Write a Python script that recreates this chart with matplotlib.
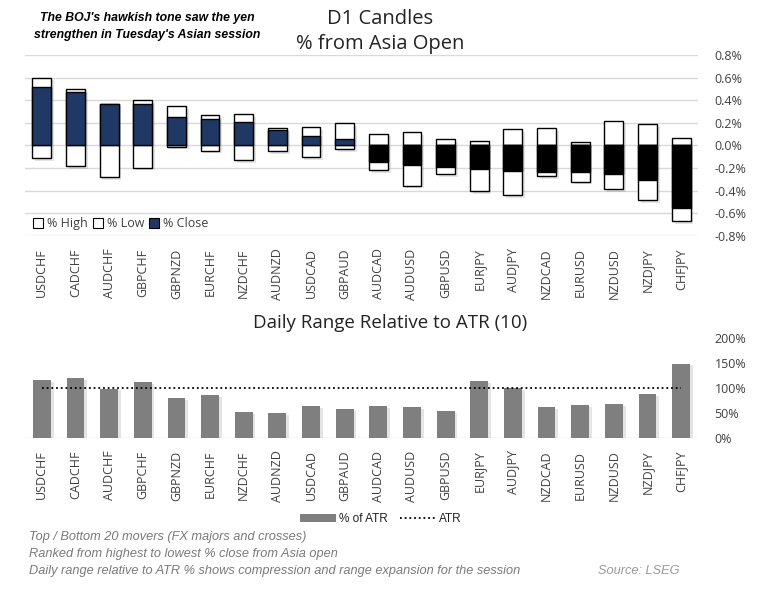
import matplotlib
matplotlib.use("Agg")
import matplotlib.pyplot as plt
import matplotlib.patheffects as pe
from matplotlib.patches import Patch
from matplotlib.lines import Line2D
from matplotlib.ticker import FuncFormatter, MultipleLocator
import numpy as np

pairs = ["USDCHF", "CADCHF", "AUDCHF", "GBPCHF", "GBPNZD", "EURCHF", "NZDCHF", "AUDNZD",
         "USDCAD", "GBPAUD", "AUDCAD", "AUDUSD", "GBPUSD", "EURJPY", "AUDJPY", "NZDCAD",
         "EURUSD", "NZDUSD", "NZDJPY", "CHFJPY"]
pct_high = [0.60, 0.50, 0.37, 0.40, 0.35, 0.27, 0.28, 0.15, 0.16, 0.195,
            0.105, 0.115, 0.055, 0.04, 0.145, 0.15, 0.03, 0.22, 0.19, 0.065]
pct_low = [-0.115, -0.18, -0.28, -0.195, -0.01, -0.045, -0.13, -0.05, -0.105, -0.03,
           -0.215, -0.355, -0.25, -0.40, -0.44, -0.27, -0.32, -0.385, -0.48, -0.67]
pct_close = [0.52, 0.47, 0.37, 0.365, 0.25, 0.23, 0.21, 0.135, 0.08, 0.06,
             -0.147, -0.17, -0.19, -0.21, -0.225, -0.235, -0.235, -0.255, -0.305, -0.55]
pct_atr = [115, 119, 98, 111, 79, 85, 51, 49, 63, 57,
           63, 61, 53, 113, 99, 61, 65, 67, 87, 148]
atr_ref = [100] * len(pairs)

NAVY = "#1f3864"
GRID = "#d9d9d9"
TXT = "#404040"
shadow = [pe.SimplePatchShadow(offset=(2, -2), alpha=0.15), pe.Normal()]

plt.rcParams['font.family'] = ['Open Sans', 'DejaVu Sans']
fig = plt.figure(figsize=(7.62, 6.0), dpi=100)
fig.patch.set_facecolor("white")

x = np.arange(len(pairs))
w = 0.56

# ---------- Top chart ----------
ax = fig.add_axes([0.0328, 0.6067, 0.8832, 0.3017])
ax.set_xlim(-0.5, len(pairs) - 0.5)
ax.set_ylim(-0.8, 0.8)
ax.yaxis.set_major_locator(MultipleLocator(0.2))
ax.grid(axis="y", color=GRID, linewidth=1.0)
ax.set_axisbelow(True)
for s in ax.spines.values():
    s.set_visible(False)

b1 = ax.bar(x, pct_high, width=w, color="white", edgecolor="black", linewidth=1.0, zorder=2)
b2 = ax.bar(x, pct_low, width=w, color="white", edgecolor="black", linewidth=1.0, zorder=2)
close_cols = [NAVY if c >= 0 else "black" for c in pct_close]
b3 = ax.bar(x, pct_close, width=w, color=close_cols, edgecolor="black", linewidth=1.0, zorder=3)
for bc in (b1, b2):
    for p in bc:
        p.set_path_effects(shadow)

ax.yaxis.tick_right()
ax.yaxis.set_major_formatter(FuncFormatter(lambda v, _: f"{v:.1f}%"))
ax.tick_params(axis="y", length=0, pad=12, labelsize=9, labelcolor=TXT)
ax.set_xticks(x)
ax.set_xticklabels(pairs, rotation=90, fontsize=9, color=TXT)
ax.tick_params(axis="x", length=0, pad=9)

leg_handles = [Patch(facecolor="white", edgecolor="black", linewidth=0.8),
               Patch(facecolor="white", edgecolor="black", linewidth=0.8),
               Patch(facecolor=NAVY, edgecolor="black", linewidth=0.8)]
ax.legend(leg_handles, ["% High", "% Low", "% Close"], loc="lower left", ncol=3,
          frameon=False, fontsize=9, handlelength=0.8, handleheight=0.8,
          handletextpad=0.3, columnspacing=0.4, borderaxespad=0.0,
          bbox_to_anchor=(0.005, 0.005), labelcolor=TXT)

fig.text(0.499, 0.968, "D1 Candles", ha="center", va="center", fontsize=14.5, color="#222222")
fig.text(0.499, 0.926, "% from Asia Open", ha="center", va="center", fontsize=14.5, color="#222222")

narrow = ['Liberation Sans', 'DejaVu Sans']
fig.text(0.193, 0.970, "The BOJ's hawkish tone saw the yen", ha="center", va="center",
         fontsize=8.8, fontweight="bold", fontstyle="italic", family=narrow, color="black")
fig.text(0.193, 0.942, "strengthen in Tuesday's Asian session", ha="center", va="center",
         fontsize=8.8, fontweight="bold", fontstyle="italic", family=narrow, color="black")

# ---------- Bottom chart ----------
ax2 = fig.add_axes([0.0328, 0.27, 0.8832, 0.1667])
ax2.set_xlim(-0.5, len(pairs) - 0.5)
ax2.set_ylim(0, 200)
ax2.yaxis.set_major_locator(MultipleLocator(50))
for s in ax2.spines.values():
    s.set_visible(False)
ax2.axhline(0, color=GRID, linewidth=1.0, zorder=1)
bars = ax2.bar(x, pct_atr, width=0.53, color="#7f7f7f", zorder=2)
for p in bars:
    p.set_path_effects([pe.SimplePatchShadow(offset=(2, -1), alpha=0.12), pe.Normal()])
ax2.plot(x, atr_ref, linestyle=(0, (1, 1.6)), color="black", linewidth=1.3, zorder=3)
ax2.yaxis.tick_right()
ax2.yaxis.set_major_formatter(FuncFormatter(lambda v, _: f"{v:.0f}%"))
ax2.tick_params(axis="y", length=0, pad=12, labelsize=9, labelcolor=TXT)
ax2.set_xticks(x)
ax2.set_xticklabels(pairs, rotation=90, fontsize=9, color=TXT)
ax2.tick_params(axis="x", length=0, pad=9)

fig.text(0.512, 0.462, "Daily Range Relative to ATR (10)", ha="center", va="center",
         fontsize=13.5, color="#222222")

h2 = [Patch(facecolor="#7f7f7f", edgecolor="none"),
      Line2D([0], [0], linestyle=(0, (1, 1.6)), color="black", linewidth=1.3)]
fig.legend(h2, ["% of ATR", "ATR"], loc="center", bbox_to_anchor=(0.5, 0.135), ncol=2,
           frameon=False, prop={'family': narrow, 'size': 8.5}, handlelength=3.0,
           handleheight=0.6, handletextpad=0.3, columnspacing=1.0, labelcolor="#222222")

foot_col = "#7a7a7a"
notes = ["Top / Bottom 20 movers (FX majors and crosses)",
         "Ranked from highest to lowest % close from Asia open",
         "Daily range relative to ATR % shows compression and range expansion for the session"]
for i, t in enumerate(notes):
    fig.text(0.038, 0.105 - i * 0.0285, t, ha="left", va="center", fontsize=9.2,
             fontstyle="italic", family=narrow, color=foot_col)
fig.text(0.785, 0.048, "Source: LSEG", ha="left", va="center", fontsize=9.2,
         fontstyle="italic", family=narrow, color="#9a9a9a")

fig.savefig("out.png", dpi=100, facecolor="white")
